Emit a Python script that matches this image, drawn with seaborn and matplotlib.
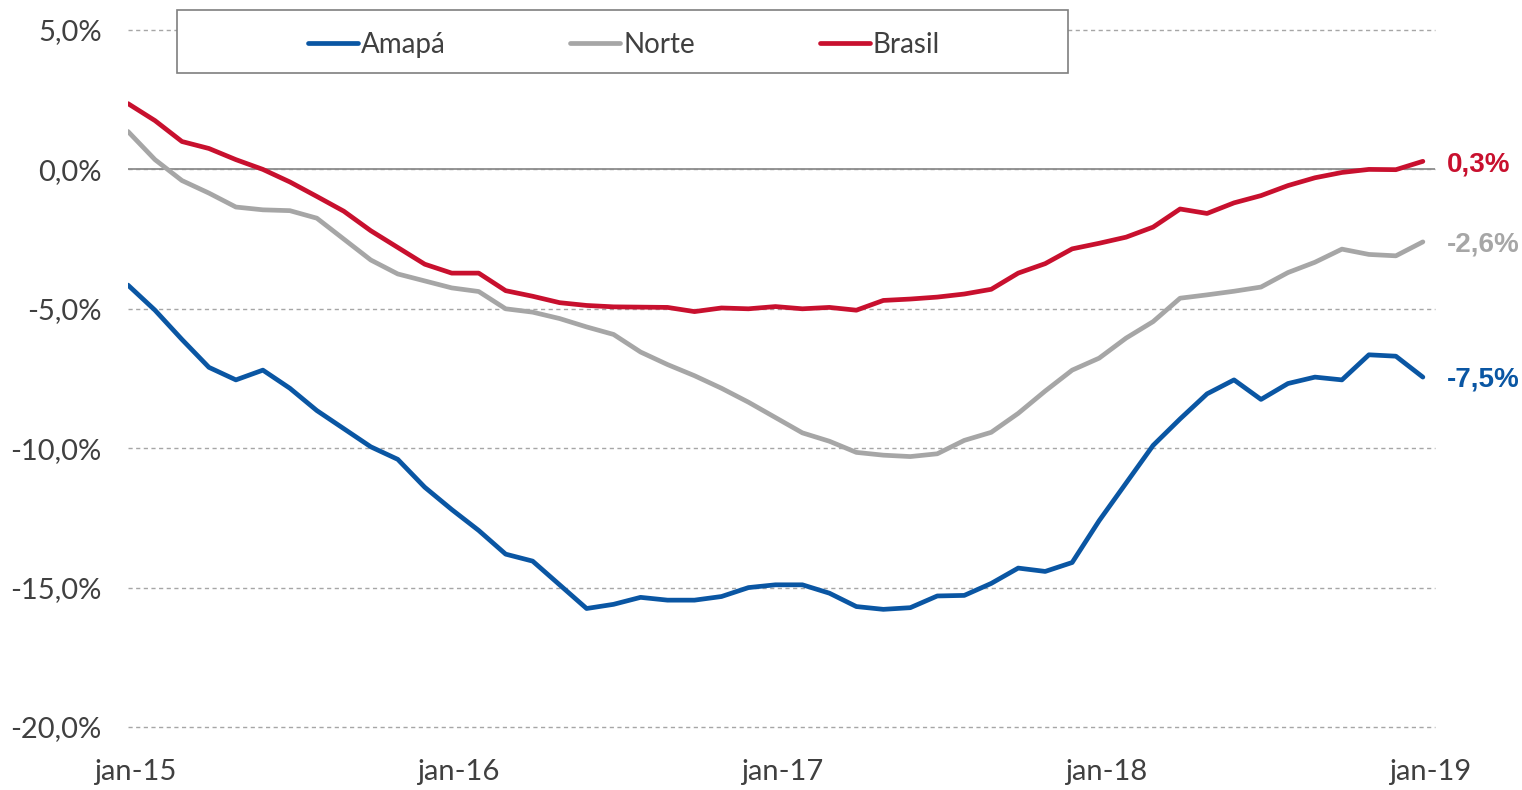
import matplotlib
matplotlib.use("Agg")
import numpy as np
import pandas as pd
import matplotlib.pyplot as plt
import matplotlib.transforms as mtransforms
import seaborn as sns
from matplotlib.ticker import FuncFormatter
from matplotlib.patches import Rectangle
from matplotlib.lines import Line2D

# ---------------- data (monthly, jan-15 .. jan-19) ----------------
series_names = ["Amapá", "Norte", "Brasil"]

amapa = [-4.15, -5.05, -6.1, -7.1, -7.55, -7.2, -7.85, -8.65, -9.3, -9.95,
         -10.4, -11.4, -12.2, -12.95, -13.8, -14.05, -14.9, -15.75, -15.6, -15.35,
         -15.45, -15.45, -15.32, -15.0, -14.9, -14.9, -15.2, -15.68, -15.78, -15.72,
         -15.3, -15.28, -14.85, -14.3, -14.42, -14.1, -12.6, -11.25, -9.9, -8.95,
         -8.05, -7.55, -8.25, -7.68, -7.45, -7.55, -6.65, -6.7, -7.45]

norte = [1.36, 0.35, -0.4, -0.85, -1.35, -1.45, -1.48, -1.75, -2.5, -3.25,
         -3.75, -4.0, -4.25, -4.38, -5.0, -5.12, -5.35, -5.65, -5.92, -6.55,
         -7.0, -7.4, -7.85, -8.35, -8.9, -9.45, -9.75, -10.15, -10.25, -10.3,
         -10.2, -9.72, -9.43, -8.75, -7.95, -7.2, -6.77, -6.05, -5.46, -4.62,
         -4.5, -4.37, -4.22, -3.7, -3.33, -2.86, -3.05, -3.1, -2.6]

brasil = [2.36, 1.75, 1.0, 0.75, 0.35, 0.0, -0.45, -0.97, -1.5, -2.2,
          -2.8, -3.4, -3.72, -3.72, -4.35, -4.55, -4.78, -4.88, -4.93, -4.94,
          -4.95, -5.1, -4.97, -5.0, -4.92, -5.0, -4.95, -5.05, -4.7, -4.65,
          -4.58, -4.47, -4.3, -3.72, -3.38, -2.85, -2.65, -2.43, -2.07, -1.42,
          -1.58, -1.2, -0.94, -0.58, -0.3, -0.11, 0.0, -0.01, 0.29]

end_labels = ["-7,5%", "-2,6%", "0,3%"]

x_tick_pos = [0, 12, 24, 36, 48]
x_tick_labels = ["jan-15", "jan-16", "jan-17", "jan-18", "jan-19"]
y_ticks = [-20, -15, -10, -5, 0, 5]

colors = {"Amapá": "#0A56A3", "Norte": "#A6A6A6", "Brasil": "#C8102E"}

# ---------------- table ----------------
month_idx = np.arange(len(amapa))
df = pd.concat([
    pd.DataFrame({"m": month_idx, "v": vals, "serie": name})
    for name, vals in zip(series_names, [amapa, norte, brasil])
], ignore_index=True)

# ---------------- style ----------------
sns.set_theme(style="white")
plt.rcParams["font.family"] = ["Lato", "DejaVu Sans"]
text_color = "#404040"

W, H = 1522, 790
fig = plt.figure(figsize=(W / 100, H / 100), dpi=100)
ax = fig.add_axes([128 / W, 1 - 727 / H, (1435 - 128) / W, (727 - 30) / H])

sns.lineplot(data=df, x="m", y="v", hue="serie", hue_order=series_names,
             palette=colors, linewidth=3.4, ax=ax, legend=False,
             solid_capstyle="round", solid_joinstyle="round", zorder=3)

ax.set_xlim(0, 48.45)
ax.set_ylim(-20, 5)
ax.set_yticks(y_ticks)
ax.yaxis.set_major_formatter(FuncFormatter(lambda v, p: f"{v:.1f}%".replace(".", ",")))
ax.set_xticks(x_tick_pos)
ax.set_xticklabels(x_tick_labels)
ax.set_xlabel("")
ax.set_ylabel("")

for s in ax.spines.values():
    s.set_visible(False)

ax.tick_params(axis="y", length=0, pad=19, labelsize=21, labelcolor=text_color)
ax.tick_params(axis="x", length=0, pad=23, labelsize=21, labelcolor=text_color)

shift = mtransforms.ScaledTranslation(7 / 100, 0, fig.dpi_scale_trans)
for lab in ax.get_xticklabels():
    lab.set_transform(lab.get_transform() + shift)

ax.yaxis.grid(True, linestyle=(0, (3, 2.5)), color="#A6A6A6", linewidth=1.0, zorder=1)
ax.xaxis.grid(False)
for gl in ax.yaxis.get_gridlines():
    gl.set_clip_on(False)
ax.axhline(0, color="#8C8C8C", linewidth=1.3, zorder=2)

# end-of-series labels
finals = [amapa[-1], norte[-1], brasil[-1]]
for name, val, lab in zip(series_names, finals, end_labels):
    ax.annotate(lab, xy=(month_idx[-1], val), xytext=(17, -2),
                textcoords="offset points", va="center", ha="left",
                fontsize=20, fontweight="bold", color=colors[name],
                family=["Liberation Sans", "DejaVu Sans"], annotation_clip=False)

# legend with box
box = Rectangle((177 / W, 1 - 73 / H), (1068 - 177) / W, 63 / H,
                transform=fig.transFigure, facecolor="white",
                edgecolor="#7F7F7F", linewidth=1.2, zorder=4)
fig.patches.append(box)

handles = [Line2D([0], [0], color=colors[n], lw=3.4, solid_capstyle="round") for n in series_names]
fig.legend(handles, series_names, loc="center",
           bbox_to_anchor=(624 / W, 1 - 45 / H), ncol=3, frameon=False,
           fontsize=20, handlelength=1.8, handletextpad=0.1, columnspacing=4.5,
           labelcolor=text_color)

fig.savefig("out.png", dpi=100)
